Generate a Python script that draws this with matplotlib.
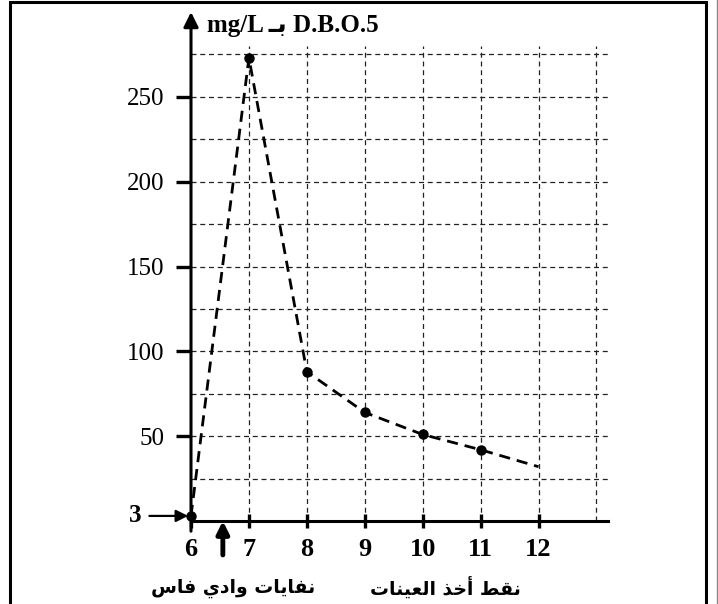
import matplotlib
matplotlib.use('Agg')
import matplotlib.pyplot as plt
from matplotlib.patches import Rectangle
from matplotlib.lines import Line2D

# data
points = [6, 7, 8, 9, 10, 11, 12]
dbo5 = [3, 273, 88, 64, 51, 42, 32]
marked = 6  # the last value has no dot
x_ticks = [6, 7, 8, 9, 10, 11, 12]
y_ticks = [50, 100, 150, 200, 250]
y_grid = [25, 50, 75, 100, 125, 150, 175, 200, 225, 250, 275]
x_grid = [7, 8, 9, 10, 11, 12, 13]

title_latin = ('mg/L', 'D.B.O.5')
title_ar = 'بـ'
xlabel_ar = 'نقط أخذ العينات'
source_ar = 'نفايات وادي فاس'

# arabic letter forms: isolated, final, initial, medial
FORMS = {
    'ا': ('\uFE8D', '\uFE8E', None, None),
    'أ': ('\uFE83', '\uFE84', None, None),
    'ب': ('\uFE8F', '\uFE90', '\uFE91', '\uFE92'),
    'ت': ('\uFE95', '\uFE96', '\uFE97', '\uFE98'),
    'خ': ('\uFEA5', '\uFEA6', '\uFEA7', '\uFEA8'),
    'د': ('\uFEA9', '\uFEAA', None, None),
    'ذ': ('\uFEAB', '\uFEAC', None, None),
    'س': ('\uFEB1', '\uFEB2', '\uFEB3', '\uFEB4'),
    'ط': ('\uFEC1', '\uFEC2', '\uFEC3', '\uFEC4'),
    'ع': ('\uFEC9', '\uFECA', '\uFECB', '\uFECC'),
    'ف': ('\uFED1', '\uFED2', '\uFED3', '\uFED4'),
    'ق': ('\uFED5', '\uFED6', '\uFED7', '\uFED8'),
    'ل': ('\uFEDD', '\uFEDE', '\uFEDF', '\uFEE0'),
    'ن': ('\uFEE5', '\uFEE6', '\uFEE7', '\uFEE8'),
    'و': ('\uFEED', '\uFEEE', None, None),
    'ي': ('\uFEF1', '\uFEF2', '\uFEF3', '\uFEF4'),
    'ـ': ('ـ', 'ـ', 'ـ', 'ـ'),
}


def dual(c):
    return c in FORMS and FORMS[c][2] is not None


def shape(s):
    out = []
    for i, c in enumerate(s):
        if c not in FORMS:
            out.append(c)
            continue
        prev_j = i > 0 and dual(s[i - 1])
        next_j = dual(c) and i + 1 < len(s) and s[i + 1] in FORMS
        f = FORMS[c]
        if prev_j and next_j:
            out.append(f[3])
        elif prev_j:
            out.append(f[1])
        elif next_j:
            out.append(f[2])
        else:
            out.append(f[0])
    return ''.join(out)[::-1]


serif = ['Liberation Serif', 'DejaVu Sans']

fig = plt.figure(figsize=(7.18, 6.04), dpi=100)
ax = fig.add_axes([191 / 718, 1 - 521 / 604, (608 - 191) / 718, (521 - 46) / 604])
ax.set_xlim(6, 13.2)
ax.set_ylim(0, 280)

ax.set_xticks(x_grid, minor=True)
ax.set_yticks(y_grid, minor=True)
ax.set_xticks(x_ticks)
ax.set_xticklabels([str(v) for v in x_ticks], family=serif, fontweight='bold', fontsize=19)
ax.set_yticks(y_ticks)
ax.set_yticklabels([str(v) for v in y_ticks], family=serif, fontsize=18)
ax.grid(True, which='both', color='#222222', lw=0.9, ls=(0, (4, 3)))
ax.xaxis.get_gridlines()[0].set_visible(False)  # no grid on the y axis itself
ax.tick_params(axis='x', which='major', direction='inout', length=10, width=2.4, pad=7)
ax.tick_params(axis='y', which='major', direction='out', length=11, width=2.4, pad=8)
ax.tick_params(which='minor', length=0)

for s in ['top', 'right', 'left']:
    ax.spines[s].set_visible(False)
ax.spines['bottom'].set_linewidth(2.2)

# y axis with arrow head
ax.annotate('', xy=(6, 300), xytext=(6, -6), annotation_clip=False,
            arrowprops=dict(arrowstyle='-|>', lw=2.2, mutation_scale=22, color='k',
                            shrinkA=0, shrinkB=0))

ax.plot(points, dbo5, color='k', lw=2.0, ls=(0, (4, 2.5)), clip_on=False, zorder=3)
ax.plot(points[:marked], dbo5[:marked], 'o', color='k', ms=6.5, clip_on=False, zorder=4)

# "3" marker arrow for the first value
ax.annotate('3', xy=(5.95, dbo5[0]), xytext=(5.03, dbo5[0]), annotation_clip=False,
            family=serif, fontweight='bold', fontsize=18, ha='center', va='center',
            arrowprops=dict(arrowstyle='-|>', lw=1.6, mutation_scale=18, color='k',
                            shrinkA=4, shrinkB=0))

# arrow marking the waste discharge
ax.annotate('', xy=(6.55, 0), xytext=(6.55, -20), annotation_clip=False,
            arrowprops=dict(arrowstyle='-|>', lw=3.5, mutation_scale=18, color='k',
                            shrinkA=0, shrinkB=0))

ax.text(6.72, -39.5, shape(source_ar), family=['DejaVu Sans'], fontweight='bold',
        fontsize=13.5, ha='center', va='center', clip_on=False)
ax.text(10.39, -39.5, shape(xlabel_ar), family=['DejaVu Sans'], fontweight='bold',
        fontsize=13.5, ha='center', va='center', clip_on=False)

ax.text(6.28, 292, title_latin[0] + ' ' + shape(title_ar) + ' ' + title_latin[1],
        family=serif, fontweight='bold', fontsize=18, ha='left', va='center', clip_on=False)

fig.add_artist(Rectangle((10 / 718, -0.05), (706 - 10) / 718, 1.05 - 2 / 604,
                         transform=fig.transFigure, fill=False, lw=2.2, color='k'))
fig.add_artist(Line2D([716.5 / 718] * 2, [0, 1], transform=fig.transFigure,
                      color='#888888', lw=1))

fig.savefig('out.png', dpi=100)
